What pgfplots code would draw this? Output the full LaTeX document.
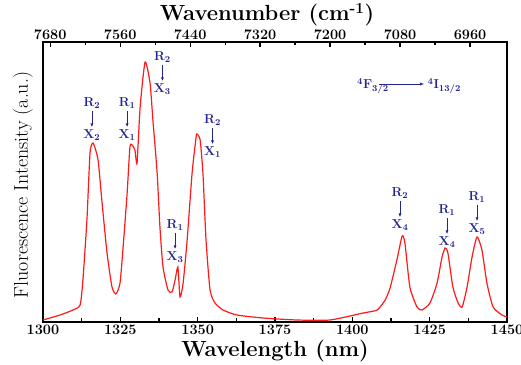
\documentclass[border=0pt]{standalone}
\usepackage{pgfplots}
\pgfplotsset{compat=1.18}
\usetikzlibrary{arrows.meta}
\definecolor{navy}{RGB}{35,35,145}
\definecolor{specred}{RGB}{255,25,25}
\newcommand{\lfont}{\fontsize{13}{13}\selectfont\bfseries}
% \pk{x}{yR}{yArrowTop}{yArrowBot}{yX}{r}{xx}
\newcommand{\pk}[7]{%
  \node[navy, font=\lfont, inner sep=0] at (axis cs:#1,#2) {R\textsubscript{#6}};
  \node[navy, font=\lfont, inner sep=0] at (axis cs:#1,#5) {X\textsubscript{#7}};
  \draw[navy, line width=0.6bp, -{Latex[length=3.5bp,width=3bp]}] (axis cs:#1,#3) -- (axis cs:#1,#4);
}
\pgfplotsset{mytick/.style={
  tick align=inside, major tick length=5bp, minor tick length=3.5bp,
  axis line style={line width=1.5bp}, every tick/.style={black, line width=1.2bp},
  ticklabel style={font=\fontsize{14.5}{14.5}\selectfont\bfseries, inner sep=2.5bp},
  xticklabel={\textbf{\pgfmathprintnumber[assume math mode=true,1000 sep={}]{\tick}}},
  scaled x ticks=false}}
\begin{document}
\begin{tikzpicture}
\begin{axis}[at={(0,0)}, anchor=south west, scale only axis, width=464bp, height=280bp,
  xmin=1300, xmax=1450, ymin=0, ymax=280,
  xtick={1300,1325,...,1450}, minor x tick num=1, xtick pos=left, ytick=\empty,
  mytick]
\addplot[specred, line width=1.2bp, smooth, tension=0.35] coordinates {
(1300,2) (1305.5,7) (1309.7,12) (1312.0,17) (1312.9,42) (1314.2,102) (1315.2,169) (1316.2,179)
(1317.8,162) (1319.1,119) (1320.7,69) (1322.3,35) (1323.6,28) (1324.9,39) (1325.9,75) (1327.2,129)
(1328.1,175) (1328.8,177) (1329.7,172) (1330.4,159) (1331.4,215) (1333.0,260) (1334.6,239)
(1335.6,199) (1336.9,149) (1337.8,95) (1338.8,55) (1340.4,32) (1341.7,30) (1342.7,42) (1343.6,55)
(1344.3,25) (1345.3,39) (1346.6,82) (1348.2,149) (1349.5,185) (1349.8,188) (1350.8,182)
(1351.7,149) (1352.7,82) (1354.0,32) (1355.6,19) (1358.2,12) (1362.7,7) (1371.1,4) (1382.1,2)
(1392.8,2) (1403.5,9) (1408.0,12) (1410.6,22) (1412.2,34) (1414.4,62) (1416.1,86) (1417.0,79)
(1418.6,35) (1420.9,15) (1422.5,12) (1425.1,19) (1427.4,39) (1429.0,65) (1430.0,74) (1430.9,69)
(1432.5,35) (1434.2,19) (1435.5,15) (1437.1,35) (1438.7,65) (1440.3,85) (1441.9,72) (1443.5,39)
(1445.5,15) (1448.4,7) (1450,5)};
\pk{1315.8}{219}{211}{195}{187}{2}{2}
\pk{1327.2}{219}{211}{195}{187}{1}{1}
\pk{1338.6}{265}{257}{241}{233}{2}{3}
\pk{1354.8}{202}{194}{178}{170}{2}{1}
\pk{1342.7}{97}{89}{73}{65}{1}{3}
\pk{1415.4}{129}{121}{105}{97}{2}{4}
\pk{1430.6}{112}{104}{88}{80}{1}{4}
\pk{1440.3}{125}{117}{101}{93}{1}{5}
\node[navy, font=\lfont, inner sep=0, anchor=base west]
  at (axis cs:1401.5,233) {\textsuperscript{4}F\textsubscript{3/2}};
\draw[navy, line width=0.6bp, -{Latex[length=4bp,width=3bp]}] (axis cs:1408.5,238) -- (axis cs:1423.2,238);
\node[navy, font=\lfont, inner sep=0, anchor=base west]
  at (axis cs:1424.3,233) {\textsuperscript{4}I\textsubscript{13/2}};
\end{axis}
\begin{axis}[at={(0,0)}, anchor=south west, scale only axis, width=464bp, height=280bp,
  xmin=6896.6, xmax=7692.3, x dir=reverse, ymin=0, ymax=1,
  axis x line*=top, axis y line=none,
  xtick={6960,7080,...,7680}, minor x tick num=1, mytick]
\addplot[draw=none] coordinates {(7000,0.5)};
\end{axis}
\node[rotate=90, anchor=south, inner sep=0, font=\fontsize{20}{20}\selectfont] at (-10bp,137bp) {Fluorescence Intensity (a.u.)};
\node[anchor=base, inner sep=0, font=\fontsize{22}{22}\selectfont\bfseries] at (232bp,-34bp) {Wavelength (nm)};
\node[anchor=base, inner sep=0, font=\fontsize{22}{22}\selectfont\bfseries] at (224bp,301bp) {Wavenumber (cm\textsuperscript{-1})};
\pgfresetboundingbox
\path[use as bounding box] (-43bp,-43bp) rectangle (478bp,322bp);
\end{tikzpicture}
\end{document}
